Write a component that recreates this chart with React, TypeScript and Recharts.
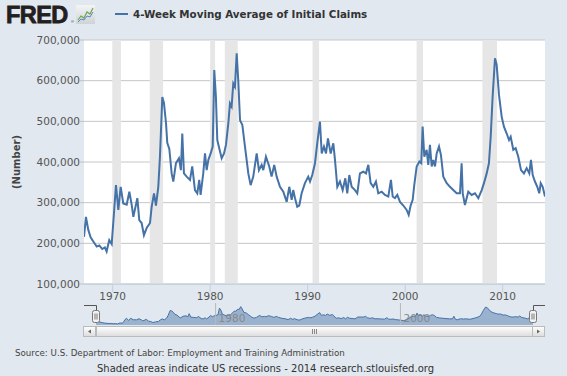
import React from "react";
import {
  LineChart,
  Line,
  AreaChart,
  Area,
  XAxis,
  YAxis,
  CartesianGrid,
  ReferenceArea,
  ReferenceLine,
} from "recharts";

// week dates as decimal years
const years = [
  1967.06, 1967.26, 1967.5, 1967.74, 1968.0, 1968.36, 1968.63, 1968.93, 1969.2, 1969.38, 1969.65, 1969.9,
  1970.06, 1970.34, 1970.58, 1970.82, 1971.09, 1971.44, 1971.71, 1971.95, 1972.12, 1972.53, 1972.73, 1972.97,
  1973.21, 1973.49, 1973.83, 1974.0, 1974.24, 1974.44, 1974.68, 1974.85,
  1975.09, 1975.26, 1975.47, 1975.6, 1975.81, 1976.05, 1976.22, 1976.49, 1976.8, 1977.0, 1977.14, 1977.31,
  1977.59, 1977.93, 1978.16, 1978.44, 1978.68, 1978.88, 1979.02, 1979.29, 1979.47, 1979.64, 1979.81,
  1980.05, 1980.26, 1980.42, 1980.59, 1980.73, 1980.93, 1981.18, 1981.42, 1981.62, 1981.86, 1982.03, 1982.2,
  1982.37, 1982.54, 1982.72, 1982.88, 1983.06, 1983.3, 1983.57, 1983.74, 1983.91, 1984.15, 1984.42, 1984.77,
  1985.0, 1985.28, 1985.45, 1985.72, 1986.06, 1986.3, 1986.57, 1986.82, 1987.16, 1987.5, 1987.85, 1988.11,
  1988.36, 1988.52, 1988.7, 1988.93, 1989.14, 1989.38, 1989.72,
  1990.06, 1990.24, 1990.47, 1990.75, 1990.98, 1991.26, 1991.44, 1991.67, 1991.88, 1992.08, 1992.36, 1992.63,
  1992.8, 1993.04, 1993.31, 1993.59, 1993.86, 1994.06, 1994.27, 1994.51, 1994.85,
  1995.09, 1995.36, 1995.7, 1995.98, 1996.22, 1996.46, 1996.73, 1997.0, 1997.24, 1997.59, 1997.93, 1998.27,
  1998.54, 1998.72, 1998.95, 1999.19, 1999.47, 1999.81,
  2000.15, 2000.36, 2000.56, 2000.77, 2000.93, 2001.18, 2001.45, 2001.65, 2001.79, 2001.96, 2002.2, 2002.37,
  2002.54, 2002.72, 2002.88, 2003.06, 2003.23, 2003.47, 2003.67, 2003.91, 2004.26, 2004.59, 2004.93,
  2005.28, 2005.62, 2005.79, 2005.9, 2006.13, 2006.47, 2006.82, 2007.16, 2007.5, 2007.85, 2008.08, 2008.36,
  2008.59, 2008.77, 2008.97, 2009.21, 2009.38, 2009.62, 2009.9,
  2010.13, 2010.41, 2010.65, 2010.82, 2011.09, 2011.33, 2011.6, 2011.88, 2012.18, 2012.46, 2012.73, 2012.9,
  2013.08, 2013.31, 2013.55, 2013.75, 2013.9, 2014.1, 2014.34,
];

const claims = [
  216000, 265000, 233000, 215000, 205000, 192000, 195000, 186000, 190000, 180000, 208000, 198000,
  250000, 343000, 282000, 339000, 298000, 295000, 327000, 295000, 265000, 311000, 257000, 250000,
  220000, 238000, 250000, 290000, 323000, 293000, 339000, 413000,
  560000, 545000, 496000, 447000, 432000, 372000, 352000, 397000, 409000, 380000, 470000, 372000,
  364000, 356000, 389000, 331000, 323000, 356000, 319000, 372000, 421000, 380000, 405000,
  421000, 438000, 626000, 560000, 454000, 434000, 409000, 421000, 442000, 495000, 544000, 536000,
  593000, 585000, 667000, 601000, 503000, 491000, 438000, 405000, 372000, 343000, 364000, 421000,
  380000, 393000, 380000, 413000, 389000, 364000, 393000, 364000, 339000, 327000, 302000, 339000,
  307000, 331000, 311000, 290000, 293000, 323000, 348000,
  364000, 352000, 368000, 397000, 446000, 499000, 421000, 438000, 421000, 458000, 421000, 446000,
  405000, 339000, 352000, 331000, 360000, 323000, 368000, 339000, 331000,
  323000, 372000, 376000, 372000, 393000, 348000, 339000, 352000, 323000, 327000, 319000, 315000,
  356000, 315000, 311000, 319000, 302000, 293000,
  282000, 270000, 293000, 307000, 343000, 389000, 401000, 397000, 487000, 413000, 430000, 393000,
  442000, 389000, 405000, 389000, 421000, 438000, 417000, 364000, 348000, 339000, 331000,
  323000, 323000, 397000, 323000, 294000, 327000, 319000, 323000, 311000, 331000, 348000, 372000,
  397000, 462000, 561000, 655000, 640000, 565000, 511000,
  487000, 470000, 454000, 462000, 430000, 434000, 413000, 380000, 372000, 385000, 372000, 405000,
  368000, 352000, 339000, 323000, 348000, 339000, 315000,
];

const recessionStart = [1969.96, 1973.8, 1980.0, 1981.5, 1990.5, 2001.17, 2007.92];
const recessionEnd = [1970.85, 1975.17, 1980.5, 1982.83, 1991.17, 2001.83, 2009.42];

const yTicks = [100000, 200000, 300000, 400000, 500000, 600000, 700000];
const xTicks = [1970, 1980, 1990, 2000, 2010];
const navTicks = [1980, 2000];

const data = years.map((year, i) => ({ year, claims: claims[i] }));

const FONT = "'DejaVu Sans', Verdana, sans-serif";
const BLUE = "#4572a7";
const BG = "#e1e8ef";
const xDomain: [number, number] = [1967.06, 2014.34];

const fmt = (v: number) => v.toLocaleString("en-US");

export default function App() {
  return (
    <div
      style={{
        position: "absolute",
        left: 0,
        top: 0,
        width: 567,
        height: 376,
        background: BG,
        overflow: "hidden",
        fontFamily: FONT,
      }}
    >
      <LineChart
        width={567}
        height={310}
        data={data}
        margin={{ top: 40, right: 22, bottom: 0, left: 0 }}
        style={{ position: "absolute", left: 0, top: 0 }}
      >
        <CartesianGrid horizontal={false} vertical={false} fill="#ffffff" />
        {recessionStart.map((s, i) => (
          <ReferenceArea
            key={s}
            x1={s}
            x2={recessionEnd[i]}
            fill="#e6e6e6"
            fillOpacity={1}
            stroke="none"
          />
        ))}
        <CartesianGrid vertical={false} stroke="#c6c6c6" />
        <XAxis
          type="number"
          dataKey="year"
          domain={xDomain}
          allowDataOverflow
          ticks={xTicks}
          interval={0}
          height={26}
          tickSize={8}
          tickMargin={1}
          axisLine={{ stroke: "#c0d0e0" }}
          tickLine={{ stroke: "#c0d0e0" }}
          tick={{ fill: "#555", fontSize: 10.5, fontFamily: FONT }}
        />
        <YAxis
          domain={[100000, 700000]}
          ticks={yTicks}
          interval={0}
          width={84}
          axisLine={false}
          tickLine={{ stroke: "#c0c0c0" }}
          tickSize={4}
          tickMargin={0}
          tickFormatter={fmt}
          tick={{ fill: "#555", fontSize: 10.5, fontFamily: FONT }}
        />
        <Line
          type="linear"
          dataKey="claims"
          stroke={BLUE}
          strokeWidth={2}
          dot={false}
          isAnimationActive={false}
        />
      </LineChart>

      {/* navigator */}
      <AreaChart
        width={567}
        height={26}
        data={data}
        margin={{ top: 3, right: 34, bottom: 1, left: 96 }}
        style={{ position: "absolute", left: 0, top: 300 }}
      >
        <XAxis type="number" dataKey="year" domain={xDomain} hide />
        <YAxis domain={[150000, 770000]} hide />
        {navTicks.map((t) => (
          <ReferenceLine
            key={t}
            x={t}
            stroke="#b8b8b8"
            label={{
              value: String(t),
              position: "insideBottomLeft",
              offset: 3,
              fill: "#888",
              fontSize: 10.5,
              fontFamily: FONT,
            }}
          />
        ))}
        <Area
          type="linear"
          dataKey="claims"
          stroke={BLUE}
          strokeWidth={1}
          fill={BLUE}
          fillOpacity={0.45}
          isAnimationActive={false}
        />
      </AreaChart>

      <svg
        width={567}
        height={376}
        style={{ position: "absolute", left: 0, top: 0, pointerEvents: "none" }}
      >
        <defs>
          <linearGradient id="logoBox" x1="0" y1="0" x2="0" y2="1">
            <stop offset="0" stopColor="#f4f4f4" />
            <stop offset="1" stopColor="#cfd3d6" />
          </linearGradient>
          <linearGradient id="thumb" x1="0" y1="0" x2="0" y2="1">
            <stop offset="0" stopColor="#ffffff" />
            <stop offset="1" stopColor="#dcdcdc" />
          </linearGradient>
        </defs>

        {/* FRED logo */}
        <text
          x={6}
          y={23}
          fontFamily="'Liberation Sans', Arial, sans-serif"
          fontWeight={900}
          fontSize={23.5}
          fill="#231f20"
          stroke="#231f20"
          strokeWidth={0.8}
          letterSpacing={-0.6}
        >
          FRED
        </text>
        <text x={71} y={23} fontFamily="'Liberation Sans', Arial, sans-serif" fontSize={4} fill="#231f20">
          ®
        </text>
        <rect x={76} y={5} width={19} height={19} fill="url(#logoBox)" />
        <polyline points="78,20 81,16 84,18 87,12 90,14 93,8" fill="none" stroke="#6aa84f" strokeWidth={1.2} />
        <polyline points="78,22 81,19 84,20 87,16 90,17 93,12" fill="none" stroke="#5b87c5" strokeWidth={1} />

        {/* legend */}
        <line x1={115} y1={14} x2={128} y2={14} stroke={BLUE} strokeWidth={2} />
        <text x={133} y={18} fontFamily={FONT} fontWeight="bold" fontSize={10.3} fill="#333">
          4-Week Moving Average of Initial Claims
        </text>

        {/* axis title */}
        <text
          x={16}
          y={162}
          transform="rotate(-90 16 162)"
          textAnchor="middle"
          dominantBaseline="central"
          fontFamily={FONT}
          fontWeight="bold"
          fontSize={10}
          fill="#444"
        >
          (Number)
        </text>

        {/* navigator outline and handles */}
        <path d="M84,305.5 H96.5 V310 M533.5,310 V305.5 H545" fill="none" stroke="#555" strokeWidth={1} />
        {[96, 533].map((hx) => (
          <g key={hx}>
            <rect x={hx - 3.5} y={310.5} width={7} height={12} rx={2} fill="#f2f2f2" stroke="#777" />
            <line x1={hx - 1} y1={313.5} x2={hx - 1} y2={319.5} stroke="#777" />
            <line x1={hx + 1} y1={313.5} x2={hx + 1} y2={319.5} stroke="#777" />
          </g>
        ))}

        {/* scrollbar */}
        <rect x={83.5} y={326.5} width={461} height={10} fill="#eeeeee" stroke="#bbb" />
        <rect x={83.5} y={326.5} width={12} height={10} fill="url(#thumb)" stroke="#bbb" />
        <path d="M91,329.5 L88,331.5 L91,333.5 Z" fill="#666" />
        <rect x={532.5} y={326.5} width={12} height={10} fill="url(#thumb)" stroke="#bbb" />
        <path d="M537,329.5 L540,331.5 L537,333.5 Z" fill="#666" />
        <rect x={96.5} y={326.5} width={436} height={10} fill="url(#thumb)" stroke="#bbb" />
        <line x1={312.5} y1={329} x2={312.5} y2={334} stroke="#888" />
        <line x1={314.5} y1={329} x2={314.5} y2={334} stroke="#888" />
        <line x1={316.5} y1={329} x2={316.5} y2={334} stroke="#888" />

        {/* footer */}
        <text x={15} y={356} fontFamily={FONT} fontSize={8.7} fill="#444">
          Source: U.S. Department of Labor: Employment and Training Administration
        </text>
        <text x={97} y={372} fontFamily={FONT} fontSize={10} fill="#333">
          Shaded areas indicate US recessions - 2014 research.stlouisfed.org
        </text>
      </svg>
    </div>
  );
}
